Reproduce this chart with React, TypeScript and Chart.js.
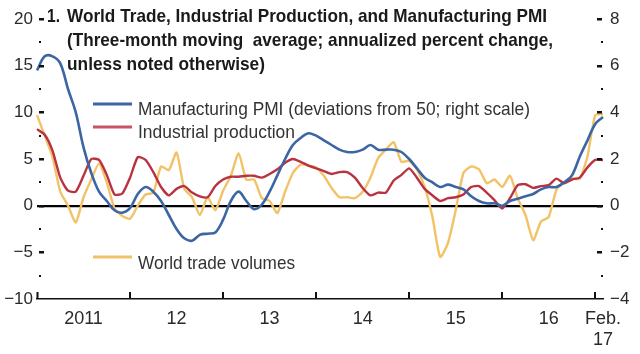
import React, { useEffect, useRef } from 'react';
import { Chart, registerables } from 'chart.js';

Chart.register(...registerables);

// ---- Data (monthly, Jan 2011 – Feb 2017) ----
const startYear = 2011;
const monthCount = 74;
const categories: string[] = [];
for (let i = 0; i < monthCount; i++) {
  const y = startYear + Math.floor(i / 12);
  const m = (i % 12) + 1;
  categories.push(`${y}-${m < 10 ? '0' + m : m}`);
}

const yearLabels = ['2011', '12', '13', '14', '15', '16'];
const endLabel = ['Feb.', '17'];

// Manufacturing PMI, deviations from 50 (right scale)
const pmiValues = [
  5.8, 6.4, 6.4, 6.1, 5.0, 4.0, 2.5, 1.4, 0.6, 0.2,
  -0.2, -0.3, -0.1, 0.5, 0.8, 0.6, 0.2, -0.4, -1.0, -1.4,
  -1.5, -1.25, -1.2, -1.15, -0.6, 0.2, 0.6, 0.2, -0.15, 0.05,
  0.6, 1.3, 2.0, 2.6, 2.9, 3.1, 3.0, 2.8, 2.6, 2.4,
  2.3, 2.3, 2.4, 2.6, 2.4, 2.4, 2.4, 2.3, 2.0, 1.6,
  1.2, 1.0, 0.8, 0.9, 0.8, 0.7, 0.4, 0.2, 0.1, 0.1,
  0.0, 0.2, 0.3, 0.4, 0.5, 0.7, 0.8, 0.8, 1.0, 1.3,
  2.1, 2.8, 3.5, 3.8,
];

// Industrial production (left scale)
const ipValues = [
  8.2, 7.6, 5.9, 3.0, 1.6, 1.5, 3.2, 5.0, 4.9, 3.3,
  1.2, 1.3, 3.0, 5.2, 4.9, 3.6, 2.0, 1.1, 1.8, 2.1,
  1.4, 1.0, 0.9, 2.1, 2.8, 3.1, 3.1, 3.2, 3.2, 3.0,
  3.4, 3.9, 4.6, 5.0, 4.7, 4.3, 4.0, 3.7, 3.4, 3.6,
  3.6, 3.0, 1.9, 1.1, 1.4, 1.4, 2.7, 3.3, 4.0, 3.0,
  1.8, 1.1, 0.5, 0.8, 0.9, 1.2, 2.0, 2.1, 1.4, 0.6,
  -0.3, 0.8, 2.2, 2.3, 1.9, 2.1, 2.2, 2.9, 2.4, 2.8,
  3.0, 4.1, 4.9, 4.9,
];

// World trade volumes (left scale)
const tradeValues = [
  9.7, 7.5, 5.2, 1.5, 0.0, -1.8, 0.9, 2.8, 4.5, 2.5,
  -0.3, -1.1, -1.4, 0.0, 1.2, 1.4, 4.2, 3.8, 5.7, 1.8,
  0.9, -1.0, 0.9, -0.5, 1.6, 3.2, 5.6, 2.8, 2.8, 0.8,
  0.5, -0.8, 1.5, 3.5, 4.4, 4.3, 4.1, 3.2, 1.9, 0.9,
  0.9, 0.8, 1.5, 3.0, 5.1, 6.0, 6.8, 4.7, 4.8, 3.9,
  2.0, -1.2, -5.5, -4.0, -0.5, 3.5, 4.2, 3.9, 2.4, 2.8,
  2.0, 3.2, 0.8, -1.0, -3.7, -1.7, -1.2, 1.7, 2.5, 2.9,
  2.9, 5.3, 9.7, 9.8,
];

const titleNumber = '1.';
const titleLines = [
  'World Trade, Industrial Production, and Manufacturing PMI',
  '(Three-month moving  average; annualized percent change,',
  'unless noted otherwise)',
];
const seriesNames = [
  'Manufacturing PMI (deviations from 50; right scale)',
  'Industrial production',
  'World trade volumes',
];

const BLUE = '#3b66a3';
const RED = '#b83240';
const RED_LEGEND = '#c85565';
const ORANGE = '#f2c267';
const TEXT = '#2a2a2a';
const FONT = '"Liberation Sans", Arial, sans-serif';

function fitText(ctx: CanvasRenderingContext2D, text: string, x: number, y: number, w: number, font: string, color: string) {
  ctx.save();
  ctx.font = font;
  ctx.fillStyle = color;
  ctx.textAlign = 'left';
  ctx.textBaseline = 'alphabetic';
  const m = ctx.measureText(text).width;
  ctx.translate(x, y);
  ctx.scale(w / m, 1);
  ctx.fillText(text, 0, 0);
  ctx.restore();
}

const fmt = (v: number | string) => {
  const n = Number(v);
  return n < 0 ? '\u2212' + Math.abs(n) : String(n);
};

const overlayPlugin = {
  id: 'overlay',
  afterDraw(chart: any) {
    const ctx: CanvasRenderingContext2D = chart.ctx;
    const xs = chart.scales.x;
    const yl = chart.scales.y;
    const yr = chart.scales.y2;
    const { left, right, bottom } = chart.chartArea;
    ctx.save();
    ctx.fillStyle = '#111';
    ctx.strokeStyle = '#111';
    // x year ticks
    ctx.lineWidth = 2;
    for (let i = 0; i <= 72; i += 12) {
      const px = Math.round(xs.getPixelForValue(i)) + (i === 0 ? 0.5 : 0);
      ctx.beginPath();
      ctx.moveTo(px, bottom);
      ctx.lineTo(px, bottom - 7);
      ctx.stroke();
    }
    // left axis ticks
    for (let v = -7.5; v <= 20; v += 2.5) {
      const py = Math.round(yl.getPixelForValue(v));
      if (v % 5 === 0) ctx.fillRect(left + 2, py - 1, 5, 2.5);
      else ctx.fillRect(left + 2, py - 1, 2, 2);
    }
    // right axis ticks
    for (let v = -3; v <= 8; v += 1) {
      const py = Math.round(yr.getPixelForValue(v));
      if (v % 2 === 0) ctx.fillRect(right - 6, py - 1, 5, 2.5);
      else ctx.fillRect(right - 2, py - 1, 2, 2);
    }
    ctx.restore();

    // title
    const bold = `bold 19px ${FONT}`;
    fitText(ctx, titleNumber, 47, 22, 13, bold, '#1a1a1a');
    fitText(ctx, titleLines[0], 67, 22, 480, bold, '#1a1a1a');
    fitText(ctx, titleLines[1], 67, 46, 486, bold, '#1a1a1a');
    fitText(ctx, titleLines[2], 67, 70, 198, bold, '#1a1a1a');

    // legend
    const reg = `19px ${FONT}`;
    const items = [
      { c: BLUE, ly: 104, ty: 115, w: 392 },
      { c: RED_LEGEND, ly: 127, ty: 138, w: 157 },
      { c: ORANGE, ly: 257, ty: 269, w: 157 },
    ];
    items.forEach((it, k) => {
      ctx.save();
      ctx.strokeStyle = it.c;
      ctx.lineWidth = 3;
      ctx.beginPath();
      ctx.moveTo(93, it.ly);
      ctx.lineTo(132, it.ly);
      ctx.stroke();
      ctx.restore();
      fitText(ctx, seriesNames[k], 138, it.ty, it.w, reg, '#333');
    });
  },
};

export default function App() {
  const ref = useRef<HTMLCanvasElement | null>(null);
  useEffect(() => {
    document.body.style.margin = '0';
    const canvas = ref.current;
    if (!canvas) return;
    const chart = new Chart(canvas, {
      type: 'line',
      data: {
        labels: categories,
        datasets: [
          {
            label: seriesNames[0],
            data: pmiValues,
            yAxisID: 'y2',
            borderColor: BLUE,
            borderWidth: 2.6,
            pointRadius: 0,
            tension: 0.35,
          },
          {
            label: seriesNames[1],
            data: ipValues,
            yAxisID: 'y',
            borderColor: RED,
            borderWidth: 2.4,
            pointRadius: 0,
            tension: 0.2,
          },
          {
            label: seriesNames[2],
            data: tradeValues,
            yAxisID: 'y',
            borderColor: ORANGE,
            borderWidth: 2.4,
            pointRadius: 0,
            tension: 0.2,
          },
        ],
      },
      options: {
        responsive: false,
        animation: false,
        devicePixelRatio: 1,
        layout: { padding: { top: 19, left: 0, right: 0, bottom: 0 } },
        plugins: {
          legend: { display: false },
          tooltip: { enabled: false },
          title: { display: false },
        },
        scales: {
          x: {
            type: 'category',
            offset: false,
            grid: { display: false, drawTicks: false },
            border: { display: true, color: '#111', width: 1.6 },
            ticks: {
              autoSkip: false,
              maxRotation: 0,
              minRotation: 0,
              padding: 9,
              color: TEXT,
              font: { family: FONT, size: 18 },
              callback: (_v: any, i: number) => {
                if (i === monthCount - 1) return endLabel;
                if (i % 12 === 6 && i / 12 < yearLabels.length) return yearLabels[Math.floor(i / 12)];
                return '';
              },
            },
            afterFit: (s: any) => {
              s.height = 55;
            },
          },
          y: {
            position: 'left',
            min: -10,
            max: 20,
            ticks: {
              stepSize: 5,
              padding: 4,
              color: TEXT,
              font: { family: FONT, size: 17 },
              callback: (v: any) => fmt(v),
            },
            grid: {
              drawTicks: false,
              color: (c: any) => (c.tick && c.tick.value === 0 ? '#000' : 'rgba(0,0,0,0)'),
              lineWidth: (c: any) => (c.tick && c.tick.value === 0 ? 2.2 : 0),
            },
            border: { display: false },
            afterFit: (s: any) => {
              s.width = 37;
            },
          },
          y2: {
            position: 'right',
            min: -4,
            max: 8,
            ticks: {
              stepSize: 2,
              padding: 7,
              color: TEXT,
              font: { family: FONT, size: 17 },
              callback: (v: any) => fmt(v),
            },
            grid: { display: false, drawTicks: false },
            border: { display: false },
            afterFit: (s: any) => {
              s.width = 37;
            },
          },
        },
      },
      plugins: [overlayPlugin],
    } as any);
    return () => chart.destroy();
  }, []);
  return (
    <div style={{ width: 640, height: 354, background: '#fff' }}>
      <canvas ref={ref} width={640} height={354} style={{ display: 'block' }} />
    </div>
  );
}
